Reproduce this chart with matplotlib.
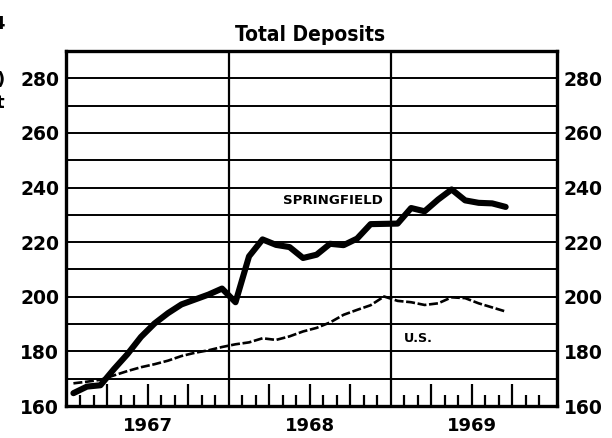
"""Total Deposits: Springfield vs U.S., monthly 1967-1969"""

import matplotlib
matplotlib.use('Agg')
import matplotlib.pyplot as plt
from matplotlib import font_manager

years = ['1967', '1968', '1969']

# monthly values, Jan 1967 .. Sep 1969
springfield = [164.7, 167.1, 167.6, 173.5, 179.0, 185.3, 190.2, 194.0, 197.2, 199.0, 200.8, 203.0,
               198.0, 214.8, 221.0, 219.0, 218.2, 214.2, 215.4, 219.4, 218.9, 221.3, 226.6, 226.7,
               226.8, 232.5, 231.3, 235.6, 239.3, 235.3, 234.4, 234.2, 232.9]
us = [168.3, 168.9, 169.6, 171.2, 172.8, 174.2, 175.3, 176.6, 178.3, 179.5, 180.4, 181.6,
      182.6, 183.3, 184.8, 184.2, 185.5, 187.3, 188.6, 190.6, 193.4, 195.2, 196.9, 200.1,
      198.5, 198.0, 197.0, 197.6, 199.8, 199.5, 197.6, 196.1, 194.6]
y_ticks = [160, 180, 200, 220, 240, 260, 280]

months = [i + 0.5 for i in range(len(springfield))]

# narrow face for the title if the system has one
names = {f.name for f in font_manager.fontManager.ttflist}
title_family = [n for n in ['Liberation Sans Narrow', 'DejaVu Sans Condensed'] if n in names]
title_family = title_family + ['DejaVu Sans']

fig = plt.figure(figsize=(6.12, 4.38), dpi=100)
ax = fig.add_axes([66 / 612, 32 / 438, 491 / 612, 355 / 438])

# horizontal grid every 10, vertical lines at year boundaries
for v in range(170, 290, 10):
    ax.axhline(v, color='black', lw=1.4, zorder=1)
for b in [12, 24]:
    ax.axvline(b, color='black', lw=1.6, zorder=1)

ax.plot(months, us, color='black', lw=1.9, dashes=(3.4, 1.0), zorder=2)
ax.plot(months, springfield, color='black', lw=4.4, solid_joinstyle='round',
        solid_capstyle='round', zorder=3)

ax.set_xlim(-0.05, 36.3)
ax.set_ylim(160, 290)

for s in ax.spines.values():
    s.set_linewidth(2.4)

# month ticks from bottom, longer at quarter ends
short = [m for m in range(1, 36) if m % 12 != 0 and m % 3 != 0]
tall = [m for m in range(1, 36) if m % 12 != 0 and m % 3 == 0]
ax.set_xticks(tall)
ax.set_xticks(short, minor=True)
ax.tick_params(axis='x', which='major', direction='in', length=16, width=1.6,
               labelbottom=False)
ax.tick_params(axis='x', which='minor', direction='in', length=8, width=1.6)

ax.set_yticks(y_ticks)
ax.tick_params(axis='y', which='both', length=0, pad=5, labelsize=13.5,
               left=True, right=True, labelleft=True, labelright=True)
for lab in ax.get_yticklabels():
    lab.set_fontweight('bold')

for i, yr in enumerate(years):
    ax.text(12 * i + 6, 152.5, yr, ha='center', va='center', fontsize=13,
            fontweight='bold')

ax.text(19.7, 235.1, 'SPRINGFIELD', ha='center', va='center', fontsize=9.6,
        fontweight='bold')
ax.text(26.0, 184.9, 'U.S.', ha='center', va='center', fontsize=9.2,
        fontweight='bold')

fig.text(310 / 612, 1 - 35 / 438, 'Total Deposits', ha='center', va='center',
         fontsize=15, fontweight='bold', fontstretch='condensed',
         family=title_family)

# clipped text from the neighbouring chart at the left edge
fig.text(5 / 612, 1 - 24 / 438, '4', ha='right', va='center', fontsize=13,
         fontweight='bold')
fig.text(5 / 612, 1 - 80 / 438, ')', ha='right', va='center', fontsize=13,
         fontweight='bold')
fig.text(4 / 612, 1 - 103 / 438, 't', ha='right', va='center', fontsize=13,
         fontweight='bold')

fig.savefig('out.png', dpi=100)
